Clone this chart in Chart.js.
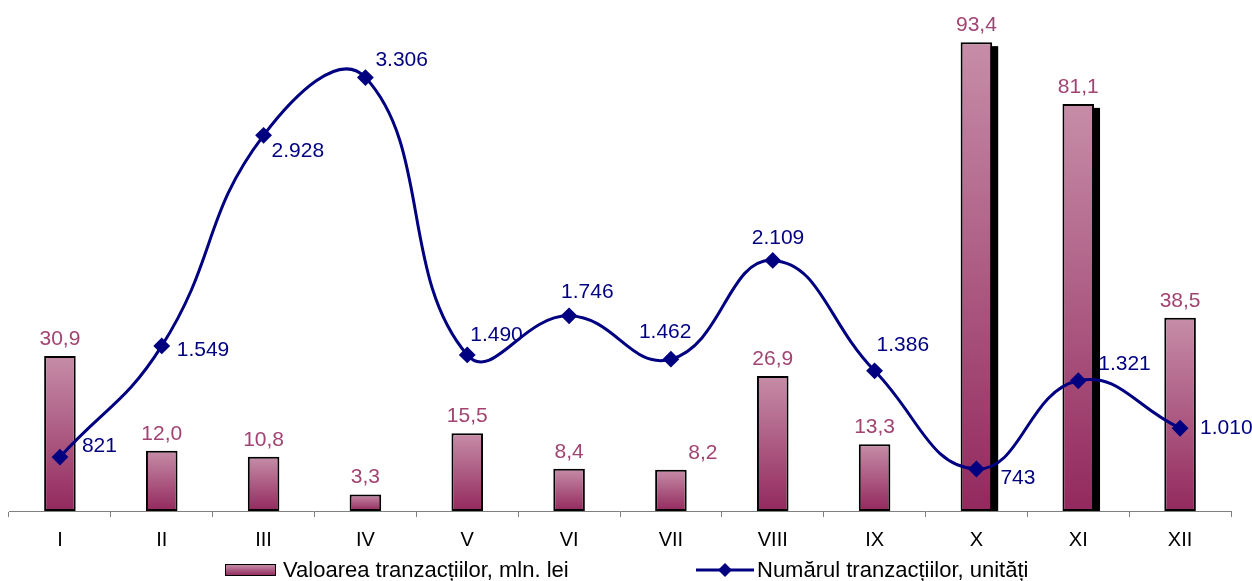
<!DOCTYPE html>
<html>
<head>
<meta charset="utf-8">
<script src="https://cdn.jsdelivr.net/npm/chart.js@4"></script>
<style>
  html, body { margin: 0; padding: 0; background: #fff; }
  #wrap { position: relative; width: 1252px; height: 581px; }
  #legend {
    position: absolute; left: 0; top: 559px; width: 1252px; height: 22px;
    font-family: 'Liberation Sans', Arial, sans-serif; font-size: 22px; color: #000;
  }
  .item { position: absolute; top: 0; line-height: 22px; white-space: nowrap; }
  .box {
    display: inline-block; width: 49px; height: 10px; vertical-align: middle;
    border: 1.5px solid #000; margin-right: 7px; margin-top: -3px;
    background: linear-gradient(#C48AA6, #962F62);
  }
  .lineIcon { display: inline-block; vertical-align: middle; margin-right: 3px; margin-top: -3px; }
</style>
</head>
<body>
<div id="wrap">
  <canvas id="chart" width="1252" height="581"></canvas>
  <div id="legend">
    <div class="item" style="left:225px"><span class="box"></span>Valoarea tranzacțiilor, mln. lei</div>
    <div class="item" style="left:696px"><svg class="lineIcon" width="58" height="16"><line x1="0" y1="8" x2="58" y2="8" stroke="#000080" stroke-width="3"/><path d="M29 1 L36 8 L29 15 L22 8 Z" fill="#000080"/></svg>Numărul tranzacțiilor, unități</div>
  </div>
</div>
<script>
// months (roman numerals) and the two series
const months = ['I', 'II', 'III', 'IV', 'V', 'VI', 'VII', 'VIII', 'IX', 'X', 'XI', 'XII'];
const valueMln = [30.9, 12.0, 10.8, 3.3, 15.5, 8.4, 8.2, 26.9, 13.3, 93.4, 81.1, 38.5];
const countUnits = [821, 1549, 2928, 3306, 1490, 1746, 1462, 2109, 1386, 743, 1321, 1010];

const FONT = "'Liberation Sans', Arial, sans-serif";
const BAR_LABEL_COLOR = '#A24472';
const LINE_COLOR = '#000080';

// label placement next to each line point: [dx, dy]
const countLabelOffsets = [
  [22, -11], [15, 4], [8, 16], [10, -17], [3, -20], [-8, -24],
  [-32, -27], [-21, -22], [2, -26], [24, 9], [20, -17], [20, 0]
];
// bars that carry the black drop shadow
const shadowBars = [9, 10];

function fmtValue(v) {
  return v.toFixed(1).replace('.', ',');
}
function fmtCount(v) {
  return v >= 1000 ? Math.floor(v / 1000) + '.' + String(v % 1000).padStart(3, '0') : String(v);
}

const barShadow = {
  id: 'barShadow',
  beforeDatasetsDraw(chart) {
    const meta = chart.getDatasetMeta(0);
    const ctx = chart.ctx;
    ctx.save();
    ctx.fillStyle = '#000';
    shadowBars.forEach(i => {
      const bar = meta.data[i];
      const left = bar.x - bar.width / 2;
      ctx.fillRect(left + 6, bar.y + 4, bar.width, bar.base - bar.y - 4);
    });
    ctx.restore();
  }
};

const valueLabels = {
  id: 'valueLabels',
  afterDatasetsDraw(chart) {
    const ctx = chart.ctx;
    ctx.save();
    ctx.font = '21px ' + FONT;
    ctx.textBaseline = 'middle';

    // bar values
    ctx.fillStyle = BAR_LABEL_COLOR;
    ctx.textAlign = 'center';
    chart.getDatasetMeta(0).data.forEach((bar, i) => {
      const dx = i === 6 ? 32 : 0;
      ctx.fillText(fmtValue(valueMln[i]), bar.x + dx, bar.y - 17);
    });

    // line values
    ctx.fillStyle = LINE_COLOR;
    ctx.textAlign = 'left';
    chart.getDatasetMeta(1).data.forEach((pt, i) => {
      const [dx, dy] = countLabelOffsets[i];
      ctx.fillText(fmtCount(countUnits[i]), pt.x + dx, pt.y + dy);
    });
    ctx.restore();
  }
};

const ctx = document.getElementById('chart').getContext('2d');
new Chart(ctx, {
  type: 'bar',
  data: {
    labels: months,
    datasets: [
      {
        label: 'Valoarea tranzacțiilor, mln. lei',
        data: valueMln,
        yAxisID: 'y',
        order: 1,
        backgroundColor: (c) => {
          const chart = c.chart;
          if (!chart.chartArea || c.type !== 'data') return '#B36A8E';
          const y = chart.scales.y;
          const top = y.getPixelForValue(c.raw);
          const bottom = y.getPixelForValue(0);
          const g = chart.ctx.createLinearGradient(0, top, 0, bottom);
          g.addColorStop(0, '#C68DA8');
          g.addColorStop(1, '#93295E');
          return g;
        },
        borderColor: '#000',
        borderWidth: 2,
        borderSkipped: false,
        categoryPercentage: 1,
        barPercentage: 0.31
      },
      {
        type: 'line',
        label: 'Numărul tranzacțiilor, unități',
        data: countUnits,
        yAxisID: 'y2',
        order: 0,
        borderColor: LINE_COLOR,
        backgroundColor: LINE_COLOR,
        borderWidth: 3,
        tension: 0.45,
        pointStyle: 'rectRot',
        pointRadius: 7,
        pointBorderWidth: 2,
        pointBackgroundColor: LINE_COLOR,
        pointBorderColor: LINE_COLOR
      }
    ]
  },
  options: {
    responsive: false,
    animation: false,
    layout: { padding: { left: 8, right: 21, top: 8, bottom: 0 } },
    scales: {
      x: {
        grid: {
          display: true,
          drawOnChartArea: false,
          drawTicks: true,
          tickLength: 6,
          color: '#808080'
        },
        border: { display: true, color: '#808080', width: 1 },
        ticks: {
          color: '#000',
          padding: 11,
          font: { family: FONT, size: 20 }
        },
        afterFit: (scale) => { scale.height = 70; }
      },
      y: { display: false, min: 0, max: 100 },
      y2: { display: false, min: 468, max: 3755 }
    },
    plugins: {
      legend: { display: false },
      tooltip: { enabled: false }
    }
  },
  plugins: [barShadow, valueLabels]
});
</script>
</body>
</html>
